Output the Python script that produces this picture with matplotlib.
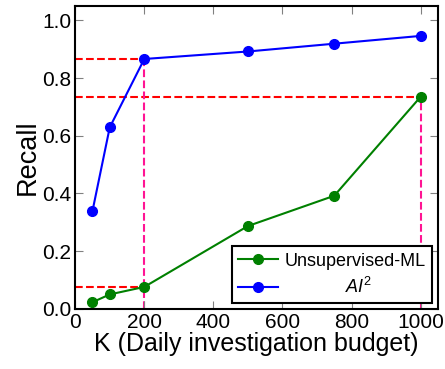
import matplotlib
matplotlib.use("Agg")
import matplotlib.pyplot as plt

plt.rcParams['font.family'] = ['Liberation Sans', 'DejaVu Sans']
plt.rcParams['mathtext.fontset'] = 'custom'
plt.rcParams['mathtext.it'] = 'Liberation Sans:italic'
plt.rcParams['mathtext.rm'] = 'Liberation Sans'

budget = [50, 100, 200, 500, 750, 1000]
recall_unsup = [0.023, 0.05, 0.076, 0.287, 0.392, 0.735]
recall_ai2 = [0.339, 0.629, 0.866, 0.892, 0.919, 0.946]

fig, ax = plt.subplots(figsize=(4.45, 3.69), dpi=100)

ax.plot(budget, recall_unsup, color='green', marker='o', markersize=7, lw=1.5,
        label='Unsupervised-ML')
ax.plot(budget, recall_ai2, color='blue', marker='o', markersize=7, lw=1.5,
        label='            $AI^2$')

# guide lines from the axes to the highlighted points
for k, r in [(200, recall_ai2[2]), (1000, recall_unsup[5]), (200, recall_unsup[2])]:
    ax.plot([0, k], [r, r], color='red', ls='--', lw=1.5, zorder=1)
for k, r in [(200, recall_ai2[2]), (1000, recall_unsup[5])]:
    ax.plot([k, k], [0, r], color='deeppink', ls='--', lw=1.5, zorder=1)

ax.set_xlim(0, 1050)
ax.set_ylim(0, 1.05)
ax.set_xticks([0, 200, 400, 600, 800, 1000])
ax.set_yticks([0.0, 0.2, 0.4, 0.6, 0.8, 1.0])
ax.set_yticklabels(['0.0', '0.2', '0.4', '0.6', '0.8', '1.0'])
ax.tick_params(direction='in', top=True, right=True, labelsize=15, length=6,
               color='gray', pad=3)
for s in ax.spines.values():
    s.set_linewidth(1.5)

ax.set_xlabel('K (Daily investigation budget)', fontsize=18, labelpad=0)
ax.set_ylabel('Recall', fontsize=19.5, labelpad=1)

leg = ax.legend(loc='lower right', fontsize=13, fancybox=False, edgecolor='black',
                framealpha=1, borderpad=0.35, handlelength=2.2, handletextpad=0.4,
                borderaxespad=0.3, labelspacing=0.4)
leg.get_frame().set_linewidth(1.5)

fig.subplots_adjust(left=0.169, right=0.984, top=0.984, bottom=0.163)
fig.savefig('out.png', dpi=100)
